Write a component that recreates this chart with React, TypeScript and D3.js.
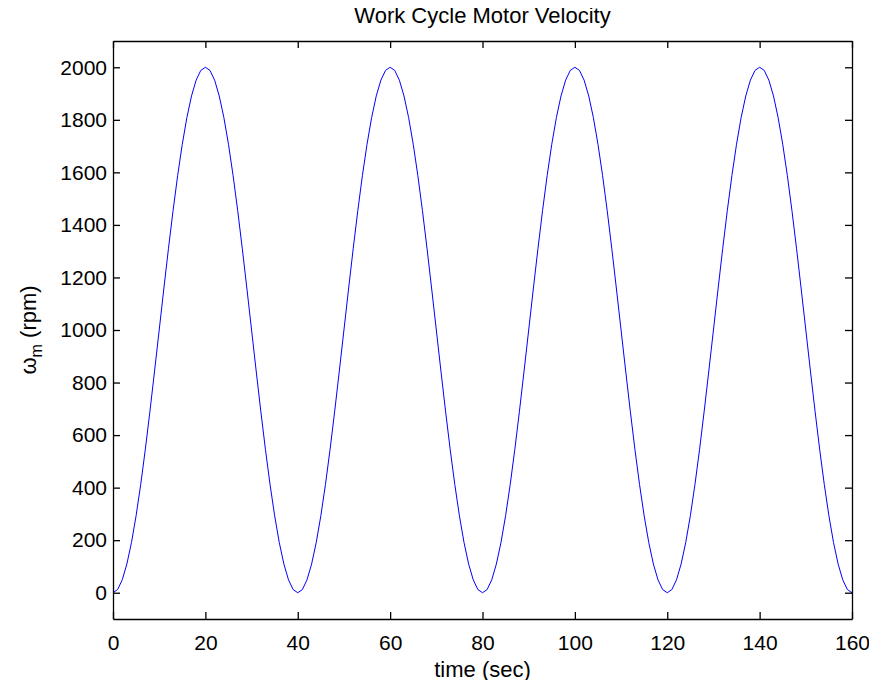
import React, { useEffect, useRef } from 'react';
import * as d3 from 'd3';

// sampled every 1 sec, 0..160
const timeSec = d3.range(0, 161, 1);
const velocityRpm = [
  0, 12, 49, 109, 191, 293, 412, 546, 691, 844, 1000, 1156, 1309, 1454, 1588, 1707, 1809, 1891, 1951, 1988,
  2000, 1988, 1951, 1891, 1809, 1707, 1588, 1454, 1309, 1156, 1000, 844, 691, 546, 412, 293, 191, 109, 49, 12,
  0, 12, 49, 109, 191, 293, 412, 546, 691, 844, 1000, 1156, 1309, 1454, 1588, 1707, 1809, 1891, 1951, 1988,
  2000, 1988, 1951, 1891, 1809, 1707, 1588, 1454, 1309, 1156, 1000, 844, 691, 546, 412, 293, 191, 109, 49, 12,
  0, 12, 49, 109, 191, 293, 412, 546, 691, 844, 1000, 1156, 1309, 1454, 1588, 1707, 1809, 1891, 1951, 1988,
  2000, 1988, 1951, 1891, 1809, 1707, 1588, 1454, 1309, 1156, 1000, 844, 691, 546, 412, 293, 191, 109, 49, 12,
  0, 12, 49, 109, 191, 293, 412, 546, 691, 844, 1000, 1156, 1309, 1454, 1588, 1707, 1809, 1891, 1951, 1988,
  2000, 1988, 1951, 1891, 1809, 1707, 1588, 1454, 1309, 1156, 1000, 844, 691, 546, 412, 293, 191, 109, 49, 12,
  0,
];
const xTicks = [0, 20, 40, 60, 80, 100, 120, 140, 160];
const yTicks = [0, 200, 400, 600, 800, 1000, 1200, 1400, 1600, 1800, 2000];

const W = 877;
const H = 688;
const margin = { top: 41, right: 25, bottom: 69, left: 113 };

const App = () => {
  const svgRef = useRef<SVGSVGElement>(null);

  useEffect(() => {
    const svg = d3.select(svgRef.current);
    svg.selectAll('*').remove();

    const x = d3.scaleLinear().domain([0, 160]).range([margin.left, W - margin.right]);
    const y = d3.scaleLinear().domain([-100, 2100]).range([H - margin.bottom, margin.top]);
    const font = 'Liberation Sans, Arial, sans-serif';
    const tickLen = 7;
    const fmt = d3.format('d');

    svg.append('rect').attr('width', W).attr('height', H).attr('fill', '#fff');

    const data = timeSec.map((t, i) => [t, velocityRpm[i]] as [number, number]);
    const line = d3.line<[number, number]>().x(d => x(d[0])).y(d => y(d[1]));
    svg.append('path')
      .datum(data)
      .attr('d', line)
      .attr('fill', 'none')
      .attr('stroke', '#0000ff')
      .attr('stroke-width', 1);

    // axes, ticks inward like matlab
    const bottom = svg.append('g')
      .attr('transform', `translate(0,${y(-100)})`)
      .call(d3.axisBottom(x).tickValues(xTicks).tickFormat(fmt).tickSizeInner(-tickLen).tickSizeOuter(0).tickPadding(16));
    const top = svg.append('g')
      .attr('transform', `translate(0,${y(2100)})`)
      .call(d3.axisTop(x).tickValues(xTicks).tickSizeInner(-tickLen).tickSizeOuter(0).tickFormat(() => ''));
    const left = svg.append('g')
      .attr('transform', `translate(${x(0)},0)`)
      .call(d3.axisLeft(y).tickValues(yTicks).tickFormat(fmt).tickSizeInner(-tickLen).tickSizeOuter(0).tickPadding(6));
    const right = svg.append('g')
      .attr('transform', `translate(${x(160)},0)`)
      .call(d3.axisRight(y).tickValues(yTicks).tickSizeInner(-tickLen).tickSizeOuter(0).tickFormat(() => ''));

    [bottom, top, left, right].forEach(g => {
      g.select('.domain').attr('stroke', '#000').attr('stroke-width', 1.3);
      g.selectAll('.tick line').attr('stroke', '#000').attr('stroke-width', 1.3);
      g.selectAll('text')
        .attr('font-family', font)
        .attr('font-size', 21)
        .attr('fill', '#000');
    });

    svg.append('text')
      .attr('x', (x(0) + x(160)) / 2)
      .attr('y', 23)
      .attr('text-anchor', 'middle')
      .attr('font-family', font)
      .attr('font-size', 22)
      .text('Work Cycle Motor Velocity');

    svg.append('text')
      .attr('x', (x(0) + x(160)) / 2)
      .attr('y', 677)
      .attr('text-anchor', 'middle')
      .attr('font-family', font)
      .attr('font-size', 22)
      .text('time (sec)');

    const yl = svg.append('text')
      .attr('transform', `translate(36,${(y(-100) + y(2100)) / 2}) rotate(-90)`)
      .attr('text-anchor', 'middle')
      .attr('font-family', font)
      .attr('font-size', 22);
    yl.append('tspan').text('ω');
    yl.append('tspan').attr('font-size', 16).attr('dy', 6).text('m');
    yl.append('tspan').attr('dy', -6).text(' (rpm)');
  }, []);

  return <svg ref={svgRef} width={W} height={H} style={{ display: 'block', margin: -8 }} />;
};

export default App;
